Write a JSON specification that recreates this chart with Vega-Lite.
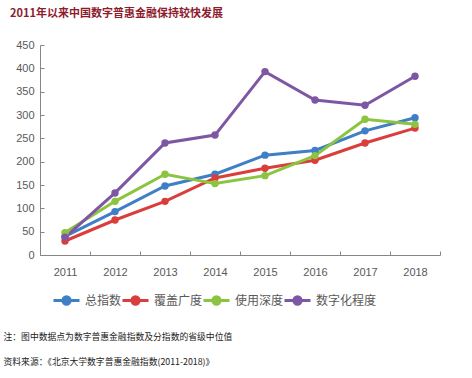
{
  "$schema": "https://vega.github.io/schema/vega-lite/v6.json",
  "width": 400,
  "height": 210,
  "autosize": "none",
  "padding": {"left": 40, "top": 45, "right": 32, "bottom": 123},
  "background": "white",
  "title": {
    "text": "2011年以来中国数字普惠金融保持较快发展",
    "anchor": "start",
    "frame": "group",
    "dx": -30,
    "offset": 20,
    "font": "Noto Sans CJK SC",
    "fontSize": 11,
    "fontWeight": "bold",
    "color": "#8E1B2E"
  },
  "config": {
    "view": {"stroke": null},
    "font": "Noto Sans CJK SC"
  },
  "data": {
    "values": [
      {"year": "2011", "series": "总指数", "value": 40},
      {"year": "2012", "series": "总指数", "value": 93},
      {"year": "2013", "series": "总指数", "value": 148},
      {"year": "2014", "series": "总指数", "value": 173},
      {"year": "2015", "series": "总指数", "value": 214},
      {"year": "2016", "series": "总指数", "value": 224},
      {"year": "2017", "series": "总指数", "value": 266},
      {"year": "2018", "series": "总指数", "value": 294},
      {"year": "2011", "series": "覆盖广度", "value": 30},
      {"year": "2012", "series": "覆盖广度", "value": 75},
      {"year": "2013", "series": "覆盖广度", "value": 115},
      {"year": "2014", "series": "覆盖广度", "value": 165},
      {"year": "2015", "series": "覆盖广度", "value": 186},
      {"year": "2016", "series": "覆盖广度", "value": 203},
      {"year": "2017", "series": "覆盖广度", "value": 240},
      {"year": "2018", "series": "覆盖广度", "value": 272},
      {"year": "2011", "series": "使用深度", "value": 48},
      {"year": "2012", "series": "使用深度", "value": 115},
      {"year": "2013", "series": "使用深度", "value": 173},
      {"year": "2014", "series": "使用深度", "value": 153},
      {"year": "2015", "series": "使用深度", "value": 170},
      {"year": "2016", "series": "使用深度", "value": 213},
      {"year": "2017", "series": "使用深度", "value": 291},
      {"year": "2018", "series": "使用深度", "value": 280},
      {"year": "2011", "series": "数字化程度", "value": 38},
      {"year": "2012", "series": "数字化程度", "value": 133},
      {"year": "2013", "series": "数字化程度", "value": 240},
      {"year": "2014", "series": "数字化程度", "value": 257},
      {"year": "2015", "series": "数字化程度", "value": 393},
      {"year": "2016", "series": "数字化程度", "value": 332},
      {"year": "2017", "series": "数字化程度", "value": 321},
      {"year": "2018", "series": "数字化程度", "value": 383}
    ]
  },
  "encoding": {
    "x": {
      "field": "year",
      "type": "ordinal",
      "scale": {"type": "band", "paddingInner": 0, "paddingOuter": 0},
      "axis": {
        "labelAngle": 0,
        "labelFont": "Liberation Sans",
        "labelFontSize": 11,
        "labelColor": "#595959",
        "labelPadding": 15,
        "domainColor": "#868686",
        "tickColor": "#868686",
        "tickSize": -4,
        "tickBand": "extent",
        "title": ["注：图中数据点为数字普惠金融指数及分指数的省级中位值", "资料来源：《北京大学数字普惠金融指数(2011-2018)》"],
        "titleFont": "Noto Sans CJK SC",
        "titleFontSize": 8.8,
        "titleFontWeight": "normal",
        "titleColor": "#222222",
        "titleAlign": "left",
        "titleAnchor": "start",
        "titleBaseline": "top",
        "titleLineHeight": 25,
        "titleX": -37,
        "titleY": 77
      }
    },
    "y": {
      "field": "value",
      "type": "quantitative",
      "scale": {"domain": [0, 450], "nice": false},
      "axis": {
        "values": [0, 50, 100, 150, 200, 250, 300, 350, 400, 450],
        "grid": false,
        "labelFont": "Liberation Sans",
        "labelFontSize": 11,
        "labelColor": "#595959",
        "labelPadding": 10,
        "domainColor": "#868686",
        "tickColor": "#868686",
        "tickSize": -4,
        "title": null
      }
    },
    "color": {
      "field": "series",
      "type": "nominal",
      "sort": ["总指数", "覆盖广度", "使用深度", "数字化程度"],
      "scale": {
        "domain": ["总指数", "覆盖广度", "使用深度", "数字化程度"],
        "range": ["#3F7FC6", "#D93E3B", "#8BC43F", "#7E57A4"]
      },
      "legend": {
        "title": null,
        "orient": "none",
        "direction": "horizontal",
        "legendX": 12,
        "legendY": 241,
        "padding": 0,
        "gridAlign": "none",
        "symbolType": "M -1 0 L 1 0 M 0.28 0 A 0.28 0.28 0 1 1 -0.28 0 A 0.28 0.28 0 1 1 0.28 0 Z",
        "symbolSize": 676,
        "symbolStrokeWidth": 3,
        "symbolOpacity": 1,
        "labelFont": "Noto Sans CJK SC",
        "labelFontSize": 12,
        "labelColor": "#595959",
        "labelOffset": 4,
        "columnPadding": -6
      }
    }
  },
  "layer": [
    {"mark": {"type": "line", "strokeWidth": 3}},
    {"mark": {"type": "point", "filled": true, "size": 55, "opacity": 1}}
  ]
}
